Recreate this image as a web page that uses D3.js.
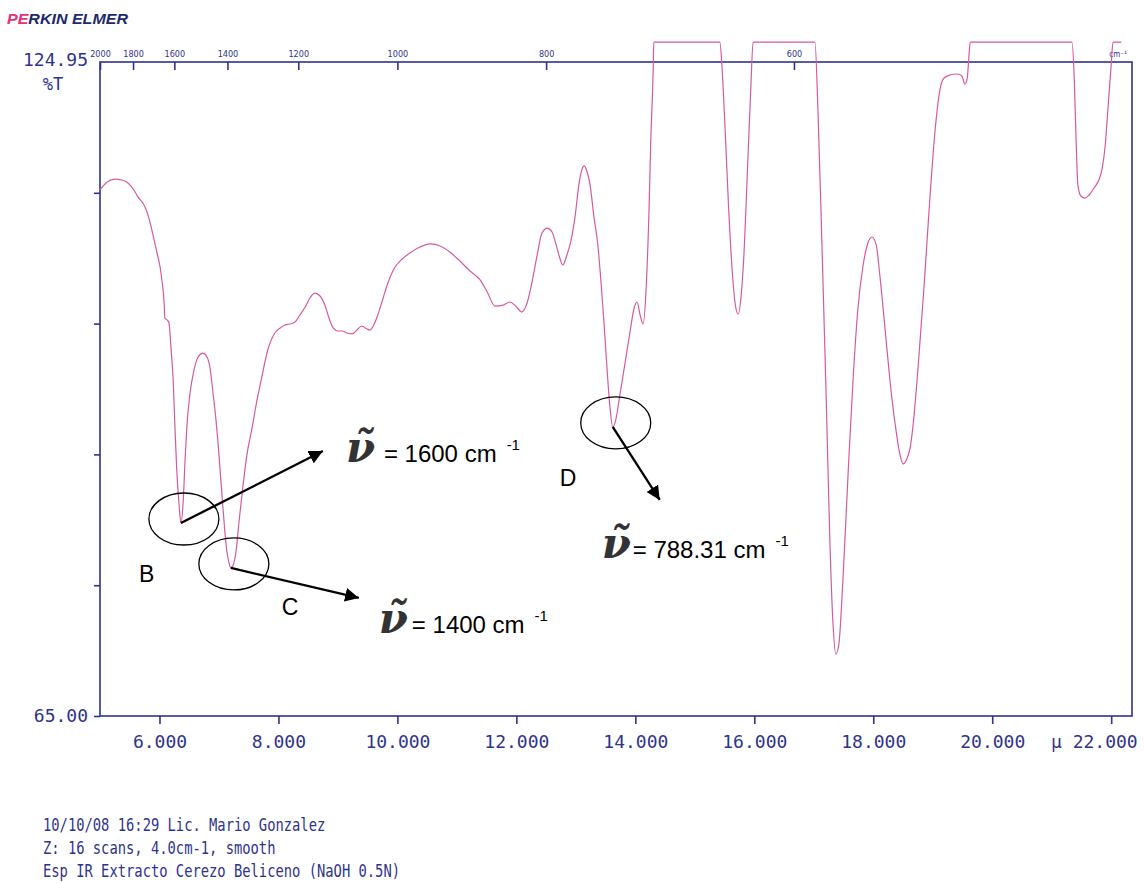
<!DOCTYPE html>
<html>
<head>
<meta charset="utf-8">
<script src="https://cdn.jsdelivr.net/npm/d3@7"></script>
<style>
body { margin: 0; background: #fff; }
svg { display: block; }
</style>
</head>
<body>
<div id="chart"></div>
<script>
// spectrum: wavelength (micron) vs %T
var micron = [5.00,5.12,5.25,5.37,5.47,5.57,5.64,5.74,5.79,5.84,5.91,5.96,6.01,6.04,6.08,6.09,6.13,6.16,6.19,6.23,
	6.26,6.29,6.33,6.36,6.40,6.43,6.46,6.51,6.58,6.65,6.73,6.80,6.85,6.90,6.95,7.00,7.07,7.12,7.17,7.20,
	7.24,7.29,7.34,7.39,7.47,7.56,7.64,7.72,7.82,7.94,8.03,8.11,8.19,8.28,8.36,8.45,8.53,8.61,8.70,8.78,
	8.85,8.92,9.00,9.07,9.15,9.24,9.32,9.40,9.49,9.54,9.61,9.67,9.76,9.84,9.96,10.08,10.21,10.38,10.55,10.72,
	10.88,11.05,11.22,11.39,11.51,11.64,11.78,11.89,11.99,12.09,12.18,12.26,12.35,12.43,12.52,12.60,12.67,12.73,12.78,12.85,
	12.92,12.99,13.05,13.10,13.14,13.19,13.24,13.30,13.37,13.42,13.47,13.52,13.57,13.62,13.67,13.74,13.83,13.91,13.98,14.03,
	14.08,14.13,14.18,14.23,14.26,14.30,14.31,15.42,15.46,15.51,15.57,15.64,15.69,15.73,15.78,15.83,15.89,15.94,15.98,17.02,
	17.07,17.14,17.21,17.27,17.32,17.37,17.42,17.49,17.58,17.66,17.74,17.83,17.91,17.98,18.05,18.11,18.20,18.28,18.37,18.45,
	18.50,18.57,18.62,18.67,18.75,18.85,18.95,19.04,19.12,19.19,19.29,19.41,19.49,19.54,19.58,19.61,19.63,21.34,21.38,21.41,
	21.44,21.49,21.56,21.63,21.71,21.80,21.85,21.90,21.95,22.00,22.03,22.17];

var transmit = [113.22,113.95,114.22,114.13,113.86,113.22,112.57,111.84,111.20,110.28,108.63,107.44,106.16,104.97,102.67,101.48,101.30,101.03,99.00,95.80,
	91.50,87.55,84.34,82.69,84.80,88.47,91.50,94.42,96.70,97.91,98.27,97.91,96.90,94.60,92.13,88.93,83.88,80.67,79.02,78.57,
	78.84,80.22,82.97,85.44,88.93,91.50,93.97,96.07,98.55,100.11,100.57,100.84,100.93,101.12,101.76,102.49,103.32,103.77,103.50,102.67,
	101.48,100.57,100.29,100.29,100.11,100.02,100.38,100.75,100.47,100.38,100.93,101.76,103.32,104.69,106.16,106.89,107.44,107.99,108.27,108.08,
	107.53,106.71,105.79,104.97,103.87,102.58,102.67,102.95,102.58,102.03,102.86,104.69,107.26,109.27,109.73,109.37,108.17,106.98,106.34,107.26,
	108.63,110.92,113.67,115.05,115.42,114.87,113.67,110.92,108.17,104.97,101.30,97.17,93.51,91.50,92.13,94.42,97.45,100.20,102.40,102.95,
	101.76,100.93,104.05,111.38,117.80,124.22,126.78,126.78,124.22,118.72,111.38,104.97,102.40,101.85,103.59,107.72,115.69,122.38,126.78,126.78,
	120.55,107.72,93.97,81.13,73.80,70.68,71.51,77.47,87.55,95.80,102.22,106.34,108.36,108.91,108.17,105.42,100.38,95.80,91.68,88.93,
	88.10,88.65,89.57,91.68,96.72,104.05,112.30,118.72,122.38,123.48,123.76,123.85,123.67,122.93,123.48,125.59,126.78,126.78,123.30,117.80,
	113.67,112.67,112.48,112.76,113.40,114.22,115.23,117.34,121.01,124.67,126.78,126.78];

var topWavenumbers = [2000, 1800, 1600, 1400, 1200, 1000, 800, 600];
var bottomTicks = [6, 8, 10, 12, 14, 16, 18, 20, 22];
var leftTicks = [65, 76.99, 88.98, 100.97, 112.96, 124.95];

var peaks = [
	{ label: 'B', mu: 6.36, t: 82.69, value: '1600' },
	{ label: 'C', mu: 7.20, t: 78.57, value: '1400' },
	{ label: 'D', mu: 13.62, t: 91.50, value: '788.31' }
];

var footer = [
	'10/10/08 16:29 Lic. Mario Gonzalez',
	'Z: 16 scans, 4.0cm-1, smooth',
	'Esp IR Extracto Cerezo Beliceno (NaOH 0.5N)'
];

var width = 1144,
	height = 883;

var navy = '#2f338c',
	pink = '#d65a9e',
	mono = "'DejaVu Sans Mono', monospace";

var svg = d3.select('#chart').append('svg')
	.attr('width', width)
	.attr('height', height);

var x = d3.scaleLinear().domain([5, 22.35]).range([100, 1132]);
var y = d3.scaleLinear().domain([65, 124.95]).range([716, 62]);

// logo
var logo = svg.append('text')
	.attr('x', 7)
	.attr('y', 24)
	.attr('font-family', 'Liberation Sans, Arial, sans-serif')
	.attr('font-weight', 'bold')
	.attr('font-style', 'italic')
	.attr('font-size', 14)
	.attr('textLength', 121)
	.attr('lengthAdjust', 'spacingAndGlyphs');
logo.append('tspan').attr('fill', '#e6317a').text('PE');
logo.append('tspan').attr('fill', '#1e2a6e').text('RKIN ELMER');

// frame
svg.append('rect')
	.attr('x', x(5))
	.attr('y', y(124.95))
	.attr('width', x(22.35) - x(5))
	.attr('height', y(65) - y(124.95))
	.attr('fill', 'none')
	.attr('stroke', navy)
	.attr('stroke-width', 1.6);

// bottom axis (micron)
var xAxis = svg.append('g')
	.attr('transform', 'translate(0,' + y(65) + ')')
	.call(d3.axisBottom(x)
		.tickValues(bottomTicks)
		.tickSize(8)
		.tickPadding(11)
		.tickFormat(d3.format('.3f')));
xAxis.select('.domain').remove();
xAxis.selectAll('line').attr('stroke', navy).attr('stroke-width', 1.6);
xAxis.selectAll('text')
	.attr('fill', navy)
	.attr('font-family', mono)
	.attr('font-size', 18);
xAxis.selectAll('.tick').filter(function(d) { return d === 22; })
	.select('text')
	.attr('text-anchor', 'end')
	.attr('x', 26)
	.text('\u00b5 22.000');

// left axis (%T)
var yAxis = svg.append('g')
	.attr('transform', 'translate(' + x(5) + ',0)')
	.call(d3.axisLeft(y)
		.tickValues(leftTicks)
		.tickSize(6)
		.tickPadding(6)
		.tickFormat(function(d) { return (d === 65 || d === 124.95) ? d.toFixed(2) : ''; }));
yAxis.select('.domain').remove();
yAxis.selectAll('line').attr('stroke', navy).attr('stroke-width', 1.6);
yAxis.selectAll('text')
	.attr('fill', navy)
	.attr('font-family', mono)
	.attr('font-size', 18);
yAxis.selectAll('.tick').filter(function(d) { return d === 124.95; })
	.select('text').attr('dy', '0.2em');
yAxis.selectAll('.tick').filter(function(d) { return d === 124.95; })
	.select('line').remove();

svg.append('text')
	.attr('x', 53)
	.attr('y', 90)
	.attr('text-anchor', 'middle')
	.attr('fill', navy)
	.attr('font-family', mono)
	.attr('font-size', 17)
	.text('%T');

// top axis (wavenumber, cm-1)
var topAxis = svg.append('g')
	.attr('transform', 'translate(0,' + y(124.95) + ')')
	.call(d3.axisTop(x)
		.tickValues(topWavenumbers.map(function(w) { return 10000 / w; }))
		.tickSize(-8)
		.tickPadding(5)
		.tickFormat(function(d) { return Math.round(10000 / d); }));
topAxis.select('.domain').remove();
topAxis.selectAll('line').attr('stroke', navy).attr('stroke-width', 1.6);
topAxis.selectAll('text')
	.attr('fill', navy)
	.attr('font-family', "'DejaVu Sans Condensed', 'DejaVu Sans', sans-serif")
	.attr('font-size', 9);

svg.append('text')
	.attr('x', 1118)
	.attr('y', y(124.95) - 5)
	.attr('text-anchor', 'middle')
	.attr('fill', navy)
	.attr('font-family', "'DejaVu Sans Condensed', 'DejaVu Sans', sans-serif")
	.attr('font-size', 8)
	.text('cm\u207b\u00b9');

// spectrum trace
var points = micron.map(function(m, i) { return [m, transmit[i]]; });

var line = d3.line()
	.x(function(d) { return x(d[0]); })
	.y(function(d) { return y(d[1]); })
	.curve(d3.curveMonotoneX);

svg.append('path')
	.datum(points)
	.attr('d', line)
	.attr('fill', 'none')
	.attr('stroke', pink)
	.attr('stroke-width', 1.2);

// annotations
svg.append('defs').append('marker')
	.attr('id', 'arrow')
	.attr('viewBox', '0 0 10 10')
	.attr('refX', 10)
	.attr('refY', 5)
	.attr('markerWidth', 6)
	.attr('markerHeight', 6)
	.attr('markerUnits', 'strokeWidth')
	.attr('orient', 'auto')
	.append('path')
	.attr('d', 'M0,0 L10,5 L0,10 z')
	.attr('fill', '#000');

// pixel offsets from each peak: arrow tip, letter, value text, gap after nu
var layout = {
	B: { arrow: [142, -72], letter: [-42, 59], value: [165, -61], gap: 38 },
	C: { arrow: [128, 30], letter: [51, 47], value: [148, 65], gap: 33 },
	D: { arrow: [47, 73], letter: [-53, 59], value: [-11, 131], gap: 31 }
};

peaks.forEach(function(p) {
	var px = x(p.mu),
		py = y(p.t),
		o = layout[p.label];

	svg.append('ellipse')
		.attr('cx', px + 3)
		.attr('cy', py - 4)
		.attr('rx', 35)
		.attr('ry', 26)
		.attr('fill', 'none')
		.attr('stroke', '#000')
		.attr('stroke-width', 1.3);

	svg.append('line')
		.attr('x1', px)
		.attr('y1', py)
		.attr('x2', px + o.arrow[0])
		.attr('y2', py + o.arrow[1])
		.attr('stroke', '#000')
		.attr('stroke-width', 2.3)
		.attr('marker-end', 'url(#arrow)');

	svg.append('text')
		.attr('x', px + o.letter[0])
		.attr('y', py + o.letter[1])
		.attr('font-family', 'Liberation Sans, Arial, sans-serif')
		.attr('font-size', 23)
		.attr('fill', '#000')
		.text(p.label);

	var vx = px + o.value[0],
		vy = py + o.value[1];

	svg.append('text')
		.attr('x', vx)
		.attr('y', vy)
		.attr('font-family', "'DejaVu Serif', serif")
		.attr('font-weight', 'bold')
		.attr('font-style', 'italic')
		.attr('font-size', 42)
		.attr('fill', '#333')
		.text('\u03bd\u0303');

	var vt = svg.append('text')
		.attr('x', vx + o.gap)
		.attr('y', vy)
		.attr('font-family', 'Liberation Sans, Arial, sans-serif')
		.attr('font-size', 24)
		.attr('fill', '#000');
	vt.append('tspan').text('= ' + p.value + ' cm');
	vt.append('tspan').attr('dx', 10).attr('dy', -12).attr('font-size', 15).text('-1');
});

// footer lines
svg.selectAll('.footer')
	.data(footer)
	.enter().append('text')
	.attr('class', 'footer')
	.attr('transform', function(d, i) { return 'translate(43,' + (831 + i * 23) + ') scale(1,1.25)'; })
	.attr('font-family', mono)
	.attr('font-size', 13.8)
	.attr('fill', navy)
	.text(function(d) { return d; });
</script>
</body>
</html>
